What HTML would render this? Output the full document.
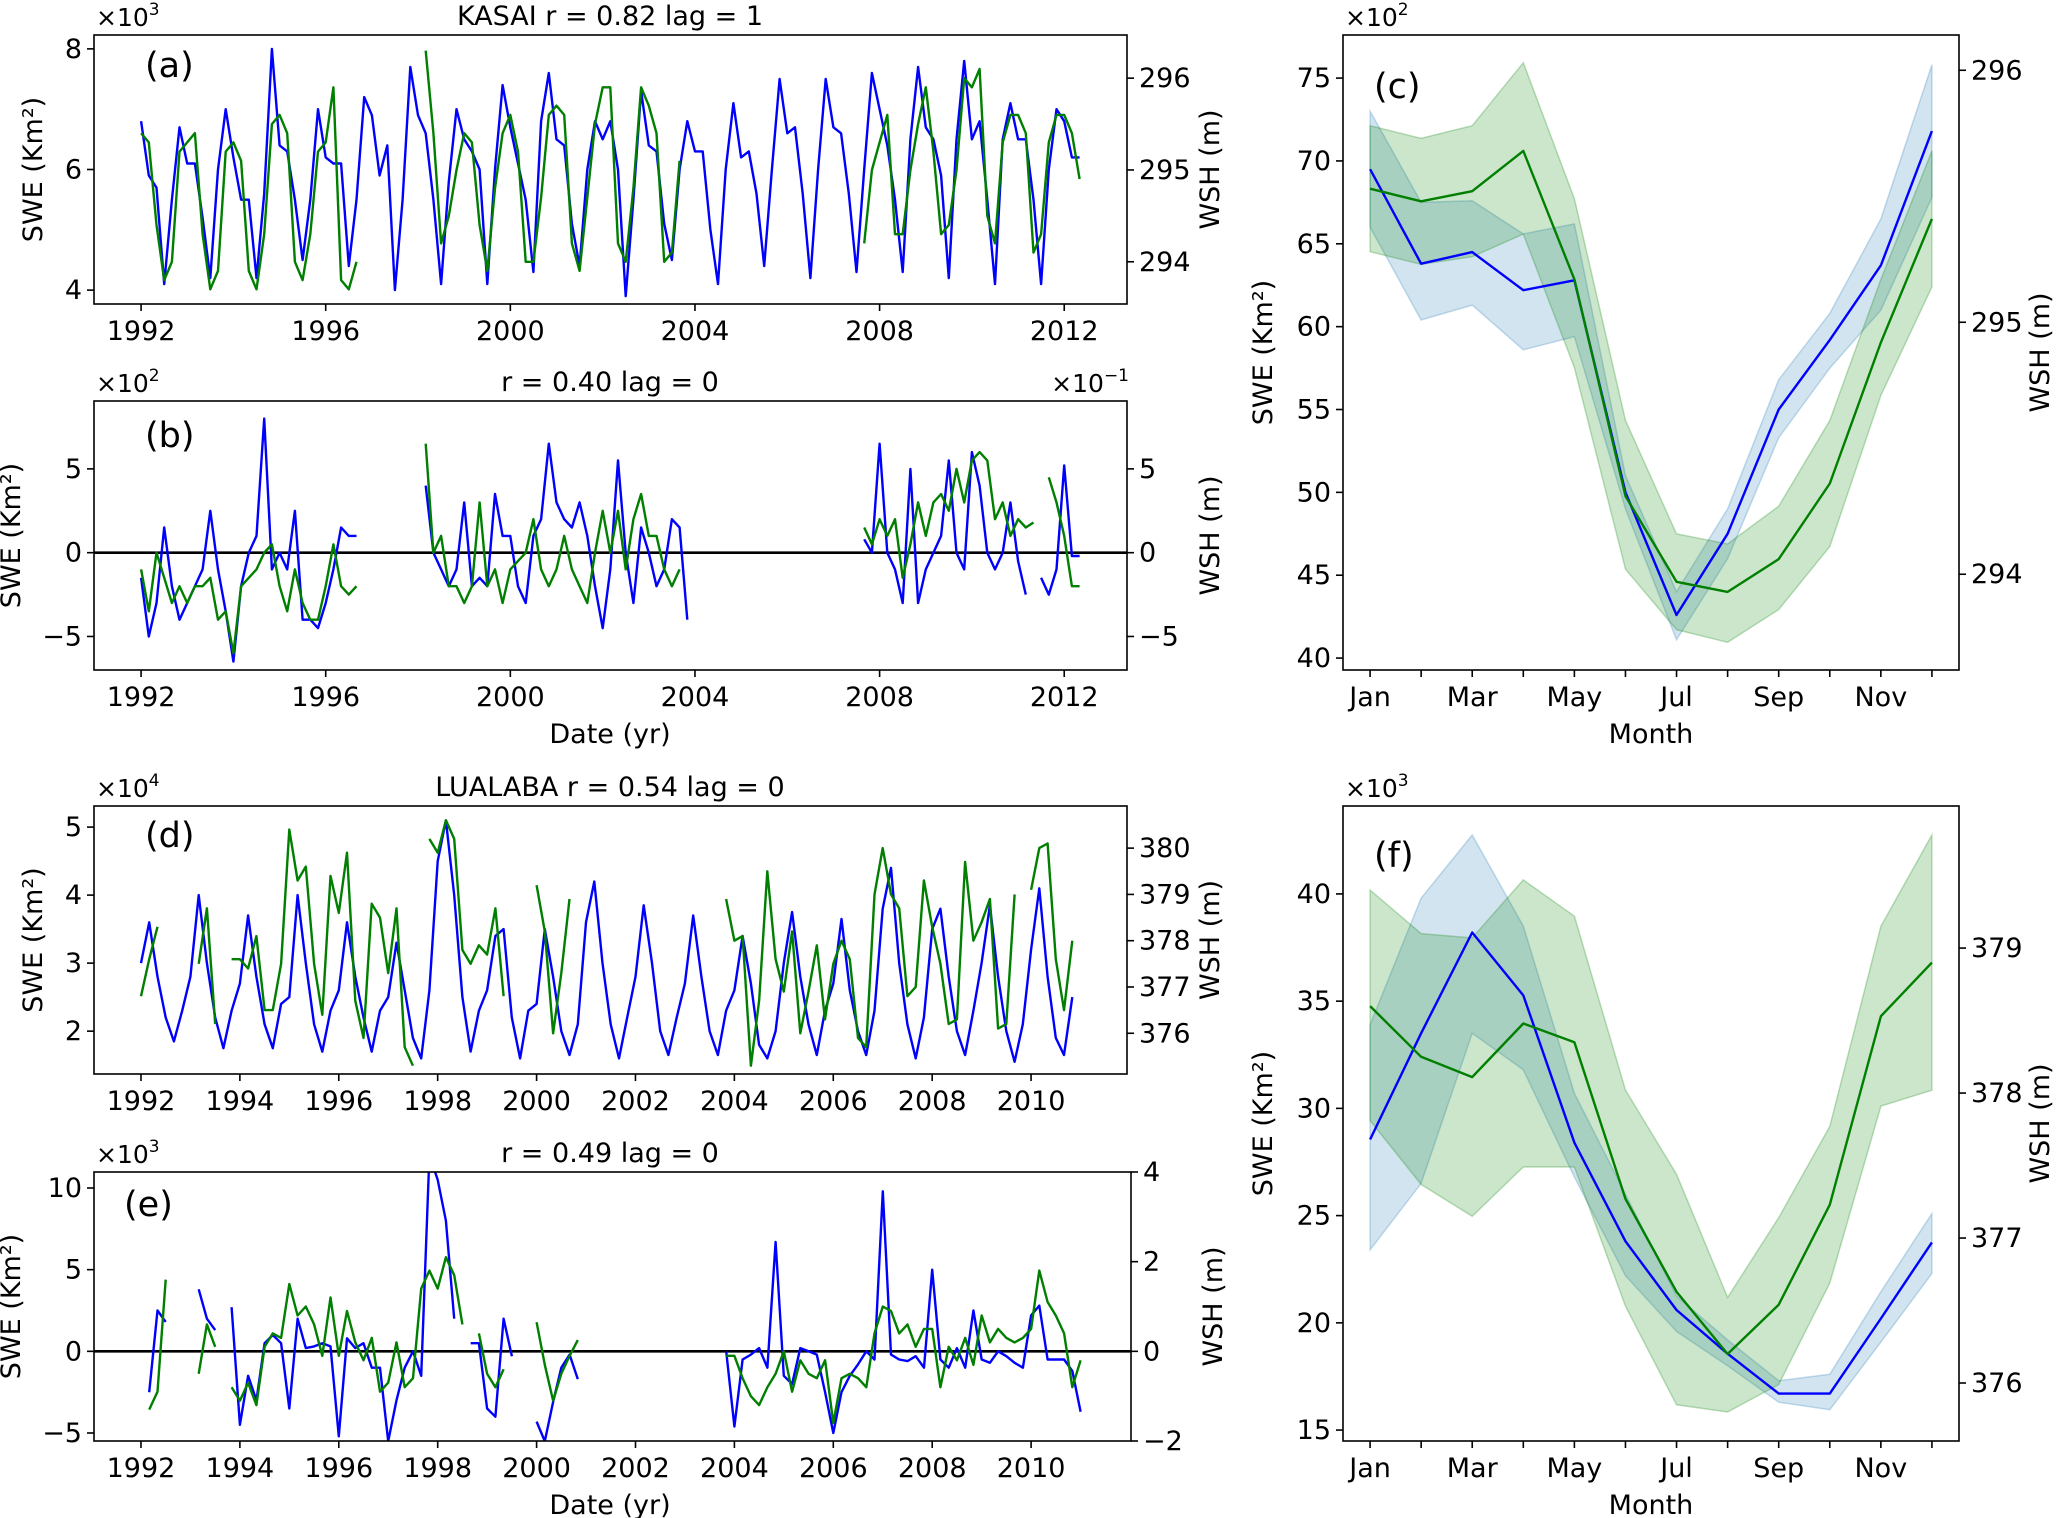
<!DOCTYPE html>
<html><head><meta charset="utf-8">
<style>
html,body{margin:0;padding:0;background:#fff;}
svg{display:block;font-family:"DejaVu Sans","Liberation Sans",sans-serif;}
</style></head>
<body>
<svg id="fig" width="2067" height="1518" viewBox="0 0 2067 1518" xmlns="http://www.w3.org/2000/svg"></svg>
<script>
// ---------- DATA ----------
const tsStart = 1992;
const tsStep = 1/6;
const months = ['Jan','Feb','Mar','Apr','May','Jun','Jul','Aug','Sep','Oct','Nov','Dec'];
const monthLabels = ['Jan','','Mar','','May','','Jul','','Sep','','Nov',''];
const N = null;
// panel a: SWE x10^3 (blue), WSH m (green)
const aBlue = [6.8,5.9,5.7,4.1,5.5,6.7, 6.1,6.1,5.2,4.2,6.0,7.0, 6.2,5.5,5.5,4.2,5.6,8.0, 6.4,6.3,5.5,4.5,5.5,7.0, 6.2,6.1,6.1,4.4,5.5,7.2, 6.9,5.9,6.4,4.0,5.5,7.7, 6.9,6.6,5.5,4.1,5.8,7.0, 6.5,6.3,6.0,4.1,6.0,7.4, 6.7,6.1,5.5,4.3,6.8,7.6, 6.5,6.4,5.1,4.4,6.0,6.8, 6.5,6.8,6.0,3.9,5.5,7.3, 6.4,6.3,5.1,4.5,6.0,6.8, 6.3,6.3,5.0,4.1,6.0,7.1, 6.2,6.3,5.6,4.4,6.0,7.5, 6.6,6.7,5.6,4.2,6.0,7.5, 6.7,6.6,5.6,4.3,6.0,7.6, 7.0,6.4,5.5,4.3,6.5,7.7, 6.7,6.5,5.9,4.2,6.5,7.8, 6.5,6.8,5.5,4.1,6.5,7.1, 6.5,6.5,5.5,4.1,6.0,7.0, 6.8,6.2,6.2];
const aGreen = [295.4,295.3,294.4,293.8,294.0,295.2, 295.3,295.4,294.3,293.7,293.9,295.2, 295.3,295.1,293.9,293.7,294.3,295.5, 295.6,295.4,294.0,293.8,294.3,295.2, 295.3,295.9,293.8,293.7,294.0,N, N,N,N,N,N,N, N,296.3,295.4,294.2,294.5,295.0, 295.4,295.3,294.4,293.9,294.8,295.4, 295.6,295.2,294.0,294.0,294.7,295.6, 295.7,295.6,294.2,293.9,294.7,295.5, 295.9,295.9,294.2,294.0,294.8,295.9, 295.7,295.4,294.0,294.1,295.1,N, N,N,N,N,N,N, N,N,N,N,N,N, N,N,N,N,N,N, N,N,N,N,294.2,295.0, 295.3,295.6,294.3,294.3,295.0,295.5, 295.9,295.2,294.3,294.4,295.0,296.0, 295.9,296.1,294.5,294.2,295.3,295.6, 295.6,295.4,294.1,294.3,295.3,295.6, 295.6,295.4,294.9];
// panel b: anomalies
const bBlue = [-1.5,-5,-3,1.5,-2,-4, -3,-2,-1,2.5,-1,-3.5, -6.5,-2,0,1,8,-1, 0,-1,2.5,-4,-4,-4.5, -3,-1,1.5,1,1,N, N,N,N,N,N,N, N,4,0,-1,-2,-1, 3,-2,-1.5,-2,3.5,1, 1,-2,-3,1,2,6.5, 3,2,1.5,3,1,-2, -4.5,-1,5.5,0,-3,1.5, 0,-2,-1,2,1.5,-4, N,N,N,N,N,N, N,N,N,N,N,N, N,N,N,N,N,N, N,N,N,N,0.8,0, 6.5,0,-1,-3,5,-3, -1,0,1,5.5,0,-1, 6,4,0,-1,0,3, -0.5,-2.5,N,-1.5,-2.5,-1, 5.2,-0.2,-0.2];
const bGreen = [-1,-3.5,0,-1.5,-3,-2, -3,-2,-2,-1.5,-4,-3.5, -6,-2,-1.5,-1,0,0.5, -2,-3.5,-1,-3,-4,-4, -2,0.5,-2,-2.5,-2,N, N,N,N,N,N,N, N,6.5,0,1,-2,-2, -3,-2,3,-2,-1,-3, -1,-0.5,0,2,-1,-2, -1,1,-1,-2,-3,0, 2.5,0,2.5,-1,2,3.5, 1,1,-1,-2,-1,N, N,N,N,N,N,N, N,N,N,N,N,N, N,N,N,N,N,N, N,N,N,N,1.5,0.5, 2,1,2,-1.5,0.5,3, 1,3,3.5,2.5,5,3, 5.5,6,5.5,2,3,1, 2,1.5,1.8,N,4.5,3, 1,-2,-2];
// panel d: SWE x10^4 (blue), WSH m (green)
const dBlue = [3.0,3.6,2.8,2.2,1.85,2.3, 2.8,4.0,3.0,2.2,1.75,2.3, 2.7,3.7,2.8,2.1,1.75,2.4, 2.5,4.0,3.0,2.1,1.7,2.3, 2.6,3.6,2.8,2.2,1.7,2.3, 2.5,3.3,2.6,1.9,1.6,2.6, 4.5,5.1,4.0,2.5,1.7,2.3, 2.6,3.4,3.5,2.2,1.6,2.3, 2.4,3.5,2.8,2.0,1.65,2.1, 3.6,4.2,3.0,2.1,1.6,2.2, 2.8,3.85,3.0,2.0,1.65,2.2, 2.7,3.7,2.8,2.0,1.65,2.3, 2.6,3.4,2.7,1.8,1.6,2.0, 3.0,3.75,2.8,2.1,1.65,2.3, 2.7,3.65,2.6,2.0,1.65,2.3, 3.8,4.4,3.0,2.1,1.6,2.2, 3.5,3.8,2.8,2.0,1.65,2.3, 3.0,3.85,2.8,2.0,1.55,2.1, 3.2,4.1,2.8,1.9,1.65,2.5];
const dGreen = [376.8,377.6,378.3,N,N,N, N,377.5,378.7,376.2,N,377.6, 377.6,377.4,378.1,376.5,376.5,377.5, 380.4,379.3,379.6,377.5,376.4,379.4, 378.6,379.9,376.7,375.9,378.8,378.5, 377.3,378.7,375.7,375.3,N,380.2, 379.9,380.6,380.2,377.8,377.5,377.9, 377.7,378.7,376.8,N,N,N, 379.2,378.2,376.0,377.3,378.9,N, N,N,N,N,N,N, N,N,N,N,N,N, N,N,N,N,N,378.9, 378.0,378.1,375.3,376.7,379.5,377.6, 376.9,378.2,376.0,376.9,377.9,376.3, 377.5,378.0,377.6,375.9,375.7,379.0, 380.0,379.0,378.7,376.8,377.0,379.3, 378.3,377.5,376.2,376.3,379.7,378.0, 378.4,378.9,376.1,376.2,379.0,N, 379.1,380.0,380.1,377.6,376.5,378.0];
// panel e: anomalies
const eBlue = [N,-2.5,2.5,1.8,N,N, N,3.8,2.0,1.3,N,2.7, -4.5,-1.5,-3,0.5,1,0.5, -3.5,2,0.2,0.3,0.5,0.3, -5.2,0.8,0.2,0.5,-1,-1, -5.5,-3,-1,0,-1.5,12, 10.5,8,2,N,0.5,0.5, -3.5,-4,2,-0.3,N,N, -4.3,-5.5,-3.1,-1,-0.2,-1.7, N,N,N,N,N,N, N,N,N,N,N,N, N,N,N,N,N,0, -4.6,-0.5,-0.2,0.2,-1,6.7, -1.5,-2,0.2,0,-0.2,-2.5, -5,-2.5,-1.5,-0.8,0,-0.5, 9.8,-0.2,-0.5,-0.6,-0.3,-1, 5,-0.5,-1,0.2,-1,2.5, -0.5,-0.7,0,-0.3,-0.7,-1, 2.2,2.8,-0.5,-0.5,-0.5,-1.2, -3.7];
const eGreen = [N,-1.3,-0.9,1.6,N,N, N,-0.5,0.6,0.1,N,-0.8, -1.1,-0.7,-1.2,0.1,0.4,0.3, 1.5,0.8,1.0,0.6,-0.1,1.2, -0.1,0.9,0.2,-0.2,0.3,-0.9, -0.7,0.2,-0.8,-0.6,1.4,1.8, 1.4,2.1,1.7,0.6,N,0.4, -0.5,-0.8,-0.4,N,N,N, 0.65,-0.3,-1.1,-0.5,-0.1,0.25, N,N,N,N,N,N, N,N,N,N,N,N, N,N,N,N,N,-0.1, -0.1,-0.6,-1.0,-1.2,-0.8,-0.5, 0.0,-0.9,-0.2,-0.5,-0.6,-0.2, -1.6,-0.6,-0.5,-0.6,-0.8,0.4, 1.0,0.9,0.4,0.6,0.1,0.5, 0.5,-0.8,0.1,-0.2,0.3,-0.3, 0.8,0.2,0.5,0.3,0.2,0.3, 0.5,1.8,1.1,0.8,0.4,-0.8, -0.2];
// panel c: monthly climatology
const cBlue = [69.5,63.8,64.5,62.2,62.8,50.0,42.6,47.5,55.0,59.2,63.7,71.8];
const cBlueLo = [66.0,60.4,61.3,58.6,59.4,49.0,41.1,46.0,53.3,57.5,61.0,67.8];
const cBlueHi = [73.0,67.5,67.6,65.6,66.2,51.0,44.0,49.0,56.8,60.8,66.5,75.8];
const cGreen = [295.53,295.48,295.52,295.68,295.17,294.31,293.97,293.93,294.06,294.36,294.92,295.41];
const cGreenLo = [295.28,295.23,295.26,295.35,294.82,294.02,293.78,293.73,293.86,294.11,294.71,295.14];
const cGreenHi = [295.78,295.73,295.78,296.03,295.49,294.61,294.16,294.12,294.27,294.61,295.17,295.68];
// panel f: monthly climatology
const fBlue = [28.55,33.5,38.2,35.27,28.4,23.8,20.6,18.56,16.7,16.7,20.2,23.75];
const fBlueLo = [23.4,26.5,33.5,31.8,26.8,22.2,19.6,18.0,16.3,15.95,19.1,22.3];
const fBlueHi = [33.9,39.8,42.75,38.5,30.7,26.0,21.25,19.2,17.3,17.6,21.45,25.1];
const fGreen = [378.6,378.25,378.11,378.48,378.35,377.27,376.63,376.2,376.54,377.23,378.53,378.9];
const fGreenLo = [377.81,377.37,377.15,377.49,377.49,376.53,375.85,375.8,375.99,376.69,377.91,378.02];
const fGreenHi = [379.4,379.1,379.07,379.47,379.22,378.02,377.44,376.59,377.14,377.77,379.15,379.78];

// ---------- DRAW ----------
const NS = 'http://www.w3.org/2000/svg';
const svg = document.getElementById('fig');
function mk(parent, tag, attrs, name, inter){
  const el = document.createElementNS(NS, tag);
  for (const k in attrs) el.setAttribute(k, attrs[k]);
  
  
  parent.appendChild(el);
  return el;
}
function txt(parent, x, y, s, size, anchor, name, rot){
  const a = {x:x, y:y, 'font-size':size, 'text-anchor':anchor||'middle', fill:'#000'};
  if (rot) a.transform = 'rotate(' + rot + ' ' + x + ' ' + y + ')';
  const t = mk(parent, 'text', a, name, false);
  t.textContent = s;
  return t;
}
function offsetLabel(parent, x, y, exp, anchor, name){
  const t = mk(parent, 'text', {x:x, y:y, 'font-size':25, 'text-anchor':anchor, fill:'#000'}, name, false);
  t.appendChild(document.createTextNode('\u00d710'));
  const sp = mk(t, 'tspan', {dy:-11, 'font-size':17}, name + '-exponent', false);
  sp.textContent = exp;
  return t;
}
let clipId = 0;
function panel(p){
  const g = mk(svg, 'g', {}, 'panel-' + p.id, false);
  const sx = v => p.L + (v - p.x[0]) / (p.x[1] - p.x[0]) * (p.R - p.L);
  const syl = v => p.B - (v - p.yl[0]) / (p.yl[1] - p.yl[0]) * (p.B - p.T);
  const syr = v => p.B - (v - p.yr[0]) / (p.yr[1] - p.yr[0]) * (p.B - p.T);
  const cid = 'clip' + (clipId++);
  const defs = mk(g, 'defs', {}, 'clip-defs', false);
  const cp = mk(defs, 'clipPath', {id: cid}, 'plot-clip', false);
  mk(cp, 'rect', {x:p.L, y:p.T, width:p.R-p.L, height:p.B-p.T}, 'clip-rect', false);
  const plot = mk(g, 'g', {'clip-path':'url(#' + cid + ')'}, 'plot-area', false);
  const xOf = p.monthly ? (i => sx(i)) : (i => sx(tsStart + i * tsStep));
  (p.bands || []).forEach(b => {
    const sy = b.axis === 'r' ? syr : syl;
    let pts = b.hi.map((v,i) => xOf(i).toFixed(1) + ',' + sy(v).toFixed(1));
    for (let i = b.lo.length - 1; i >= 0; i--) pts.push(xOf(i).toFixed(1) + ',' + sy(b.lo[i]).toFixed(1));
    mk(plot, 'polygon', {points: pts.join(' '), fill: b.color, 'fill-opacity': 0.2, stroke: b.color, 'stroke-opacity': 0.25, 'stroke-width': 1.5}, b.name, false);
  });
  if (p.zero) mk(plot, 'line', {x1:p.L, x2:p.R, y1:syl(0), y2:syl(0), stroke:'#000', 'stroke-width':2.6}, 'zero-line', false);
  p.series.forEach(s => {
    const sy = s.axis === 'r' ? syr : syl;
    let d = '', pen = false;
    s.data.forEach((v,i) => {
      if (v === null) { pen = false; return; }
      d += (pen ? 'L' : 'M') + xOf(i).toFixed(1) + ' ' + sy(v).toFixed(1);
      pen = true;
    });
    mk(plot, 'path', {d: d, fill:'none', stroke: s.color, 'stroke-width': 2.4, 'stroke-linejoin':'round'}, s.name, false);
  });
  mk(g, 'rect', {x:p.L, y:p.T, width:p.R-p.L, height:p.B-p.T, fill:'none', stroke:'#000', 'stroke-width':1.6}, 'axes-frame', false);
  p.xticks.forEach((v,i) => {
    const x = sx(v);
    mk(g, 'line', {x1:x, x2:x, y1:p.B, y2:p.B + 7, stroke:'#000', 'stroke-width':1.6}, 'x-tick', false);
    const lab = p.xlabels[i];
    if (lab) txt(g, x, p.B + 36, lab, 27, 'middle', 'x-tick-label');
  });
  p.ylt.forEach(v => {
    const y = syl(v);
    mk(g, 'line', {x1:p.L - 7, x2:p.L, y1:y, y2:y, stroke:'#000', 'stroke-width':1.6}, 'y-left-tick', false);
    txt(g, p.L - 12, y + 9, String(v).replace('-', '\u2212'), 27, 'end', 'y-left-tick-label');
  });
  p.yrt.forEach(v => {
    const y = syr(v);
    mk(g, 'line', {x1:p.R, x2:p.R + 7, y1:y, y2:y, stroke:'#000', 'stroke-width':1.6}, 'y-right-tick', false);
    txt(g, p.R + 12, y + 9, String(v).replace('-', '\u2212'), 27, 'start', 'y-right-tick-label');
  });
  offsetLabel(g, p.L + 2, p.T - 9, p.exp, 'start', 'y-left-offset');
  if (p.rexp) offsetLabel(g, p.R + 2, p.T - 9, p.rexp, 'end', 'y-right-offset');
  txt(g, p.lx, (p.T + p.B) / 2, 'SWE (Km\u00b2)', 27, 'middle', 'y-left-title', -90);
  txt(g, p.rx, (p.T + p.B) / 2, 'WSH (m)', 27, 'middle', 'y-right-title', -90);
  if (p.title) txt(g, 610, p.T - 10, p.title, 27, 'middle', 'panel-title');
  txt(g, p.tagx, p.tagy, p.tag, 35, 'start', 'panel-tag');
  if (p.xtitle) txt(g, (p.monthly ? (p.L + p.R) / 2 : 610), p.B + 73, p.xtitle, 27, 'middle', 'x-axis-title');
}
const yrs4 = [1992,1996,2000,2004,2008,2012];
const yrs2 = [1992,1994,1996,1998,2000,2002,2004,2006,2008,2010];
const mIdx = [0,1,2,3,4,5,6,7,8,9,10,11];
panel({id:'a', L:94,R:1127,T:35,B:304, x:[1990.98,2013.36], yl:[3.77,8.23], yr:[293.54,296.47],
  series:[{data:aBlue,color:'#0000ff',name:'swe-line-kasai'},{data:aGreen,color:'#007f00',axis:'r',name:'wsh-line-kasai'}],
  xticks:yrs4, xlabels:yrs4.map(String), ylt:[4,6,8], yrt:[294,295,296], exp:'3', lx:42, rx:1219,
  title:'KASAI r = 0.82 lag = 1', tag:'(a)', tagx:145, tagy:77});
panel({id:'b', L:94,R:1127,T:401,B:670, x:[1990.98,2013.36], yl:[-7.0,9.05], yr:[-7.0,9.05], zero:true,
  series:[{data:bBlue,color:'#0000ff',name:'swe-anomaly-kasai'},{data:bGreen,color:'#007f00',axis:'r',name:'wsh-anomaly-kasai'}],
  xticks:yrs4, xlabels:yrs4.map(String), ylt:[-5,0,5], yrt:[-5,0,5], exp:'2', rexp:'\u22121', lx:20, rx:1219,
  title:'r = 0.40 lag = 0', tag:'(b)', tagx:145, tagy:447, xtitle:'Date (yr)'});
panel({id:'d', L:94,R:1127,T:806,B:1074, x:[1991.05,2011.94], yl:[1.37,5.31], yr:[375.12,380.91],
  series:[{data:dBlue,color:'#0000ff',name:'swe-line-lualaba'},{data:dGreen,color:'#007f00',axis:'r',name:'wsh-line-lualaba'}],
  xticks:yrs2, xlabels:yrs2.map(String), ylt:[2,3,4,5], yrt:[376,377,378,379,380], exp:'4', lx:42, rx:1219,
  title:'LUALABA r = 0.54 lag = 0', tag:'(d)', tagx:145, tagy:847});
panel({id:'e', L:94,R:1131,T:1172,B:1441, x:[1991.05,2012.02], yl:[-5.49,10.98], yr:[-2,4], zero:true,
  series:[{data:eBlue,color:'#0000ff',name:'swe-anomaly-lualaba'},{data:eGreen,color:'#007f00',axis:'r',name:'wsh-anomaly-lualaba'}],
  xticks:yrs2, xlabels:yrs2.map(String), ylt:[-5,0,5,10], yrt:[-2,0,2,4], exp:'3', lx:20, rx:1222,
  title:'r = 0.49 lag = 0', tag:'(e)', tagx:124, tagy:1216, xtitle:'Date (yr)'});
panel({id:'c', monthly:true, L:1343,R:1959,T:35,B:670, x:[-0.53,11.53], yl:[39.28,77.6], yr:[293.62,296.14],
  bands:[{hi:cBlueHi,lo:cBlueLo,color:'#1f77b4',name:'swe-band-kasai'},{hi:cGreenHi,lo:cGreenLo,color:'#008000',axis:'r',name:'wsh-band-kasai'}],
  series:[{data:cBlue,color:'#0000ff',name:'swe-monthly-kasai'},{data:cGreen,color:'#007f00',axis:'r',name:'wsh-monthly-kasai'}],
  xticks:mIdx, xlabels:monthLabels, ylt:[40,45,50,55,60,65,70,75], yrt:[294,295,296], exp:'2', lx:1272, rx:2049,
  tag:'(c)', tagx:1374, tagy:98, xtitle:'Month'});
panel({id:'f', monthly:true, L:1343,R:1959,T:806,B:1441, x:[-0.53,11.53], yl:[14.49,44.1], yr:[375.6,379.98],
  bands:[{hi:fBlueHi,lo:fBlueLo,color:'#1f77b4',name:'swe-band-lualaba'},{hi:fGreenHi,lo:fGreenLo,color:'#008000',axis:'r',name:'wsh-band-lualaba'}],
  series:[{data:fBlue,color:'#0000ff',name:'swe-monthly-lualaba'},{data:fGreen,color:'#007f00',axis:'r',name:'wsh-monthly-lualaba'}],
  xticks:mIdx, xlabels:monthLabels, ylt:[15,20,25,30,35,40], yrt:[376,377,378,379], exp:'3', lx:1272, rx:2049,
  tag:'(f)', tagx:1374, tagy:867, xtitle:'Month'});
</script>
</body></html>
